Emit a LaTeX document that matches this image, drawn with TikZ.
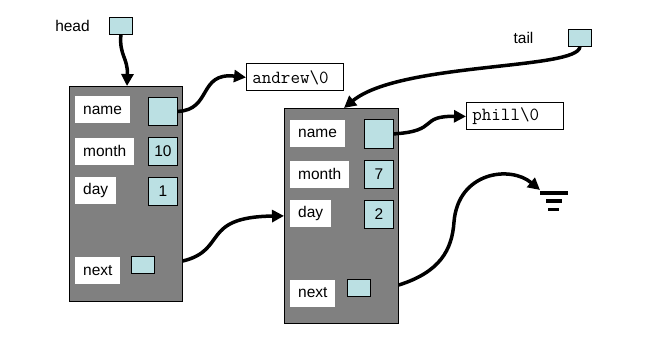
\documentclass[tikz,border=0pt]{standalone}
\usepackage{fontspec}
\setmainfont{Liberation Sans}
\usetikzlibrary{arrows.meta}
\definecolor{valblue}{RGB}{187,224,227}
\definecolor{boxgray}{RGB}{128,128,128}
\tikzset{
  recbox/.style={draw=black, line width=0.8pt, fill=boxgray, anchor=north west, inner sep=0pt},
  lbl/.style={fill=white, anchor=west, inner xsep=8pt, inner ysep=0pt, minimum height=27pt, font=\fontsize{15.5}{18}\selectfont},
  val/.style={draw=black, line width=0.8pt, fill=valblue, anchor=north west, inner sep=0pt, minimum width=29pt, minimum height=28pt, font=\fontsize{15.5}{18}\selectfont},
  ptrbox/.style={draw=black, line width=0.8pt, fill=valblue, anchor=north west, inner sep=0pt, minimum width=23pt, minimum height=17pt},
  strbox/.style={draw=black, line width=0.8pt, fill=white, anchor=north west, inner xsep=6pt, inner ysep=0pt, text width=85pt, align=left, minimum height=27pt, font=\ttfamily\fontsize{18.5}{20}\selectfont},
  txt/.style={font=\fontsize{15.5}{18}\selectfont, inner sep=0pt},
  ptr/.style={line width=3.5pt, -{Triangle[length=12pt,width=12pt]}},
  gnd/.style={line width=4pt}
}
\begin{document}
\begin{tikzpicture}[x=1pt,y=-1pt]
\useasboundingbox (0,0) rectangle (646,337);
% record boxes
\node[recbox, minimum width=113pt, minimum height=215pt] (box1) at (69,86) {};
\node[recbox, minimum width=114pt, minimum height=215pt] (box2) at (284,108) {};
% left record
\node[lbl] (l1name) at (75,110) {name};
\node[val] (v1name) at (148,97) {};
\node[lbl] (l1month) at (75,151) {month};
\node[val] (v1month) at (148,137) {10};
\node[lbl] (l1day) at (75,190.5) {day};
\node[val] (v1day) at (148,177) {1};
\node[lbl] (l1next) at (75,270.5) {next};
\node[ptrbox] (v1next) at (131,256) {};
% right record
\node[lbl] (l2name) at (290,133.5) {name};
\node[val] (v2name) at (364,119.5) {};
\node[lbl] (l2month) at (290,174) {month};
\node[val] (v2month) at (364,159.5) {7};
\node[lbl] (l2day) at (290,213.5) {day};
\node[val] (v2day) at (364,199.5) {2};
\node[lbl] (l2next) at (290,293) {next};
\node[ptrbox] (v2next) at (347,279) {};
% head / tail
\node[txt] (headlbl) at (72.5,26) {head};
\node[ptrbox] (headbox) at (109,17) {};
\node[txt] (taillbl) at (523.5,38) {tail};
\node[ptrbox] (tailbox) at (568,29) {};
% strings
\node[strbox] (andrew) at (246,63.5) {andrew\textbackslash 0};
\node[strbox] (phill) at (466,102.5) {phill\textbackslash 0};
% ground
\coordinate (gnd) at (540,190);
\draw[gnd] (540,192.5) -- (568,192.5);
\draw[gnd, line width=3.5pt] (546,201) -- (562,201);
\draw[gnd, line width=3pt] (548,209) -- (559,209);
% pointers
\draw[ptr] (headbox.south) .. controls (119,55) and (128,58) .. (box1.north -| 127,0);
\draw[ptr] (v1name.east) .. controls (212,110) and (198,72) .. (andrew.west);
\draw[ptr] (v2name.east) .. controls (440,131) and (418,116) .. (phill.west);
\draw[ptr] (tailbox.south) .. controls (578,70) and (400,62) .. (box2.north -| 344,0);
\draw[ptr] (box1.east |- 0,261) .. controls (228,250) and (200,217) .. (box2.west);
\draw[ptr] (box2.east |- 0,285) .. controls (440,272) and (452,250) .. (454,222) .. controls (458,172) and (510,165) .. (gnd);
\end{tikzpicture}
\end{document}
